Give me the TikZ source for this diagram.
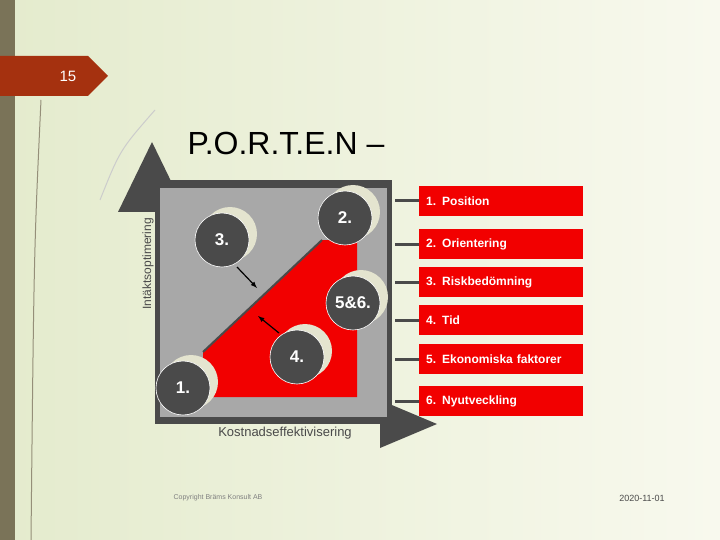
\documentclass[tikz,border=0pt]{standalone}
\usepackage{fontspec}
\setmainfont{Liberation Sans}
\begin{document}
\begin{tikzpicture}[x=1pt,y=-1pt,
  circ/.style={circle,draw=white,line width=0.6pt,fill=darkc,minimum size=54pt,inner sep=0pt,text=white,font=\bfseries\fontsize{17}{19}\selectfont},
  shad/.style={circle,fill=cream,minimum size=54pt,inner sep=0pt},
  lab/.style={fill=redb,minimum width=164pt,minimum height=30pt,anchor=west,text=white,font=\bfseries\fontsize{12}{14}\selectfont,align=left,text width=150pt,inner xsep=7pt},
  bar/.style={draw=darkc,line width=3pt}]
\definecolor{darkc}{HTML}{4A4A4A}
\definecolor{cream}{HTML}{E4E4CF}
\definecolor{redb}{HTML}{F20000}
\definecolor{graysq}{HTML}{A8A8A8}
\definecolor{tab}{HTML}{A5310F}
\definecolor{strip}{HTML}{7A7358}
\useasboundingbox (0,0) rectangle (720,540);
\shade[left color={rgb,255:red,228;green,235;blue,205}, right color={rgb,255:red,248;green,249;blue,238}] (0,0) rectangle (720,540);
\fill[strip] (0,0) rectangle (15,540);
\draw[strip!80,line width=1pt] (41,100) .. controls (34,250) .. (31,540);
\draw[gray!40,line width=1pt] (155,110) .. controls (120,150) .. (100,200);
\fill[tab] (0,56) -- (88,56) -- (108,76) -- (88,96) -- (0,96) -- cycle;
\node[text=white,font=\fontsize{15}{17}\selectfont] (pg) at (68,76) {15};
\node[font=\fontsize{32}{36}\selectfont,anchor=west] (title) at (184,143) {P.O.R.T.E.N --};
% axes and frame
\fill[darkc] (155,180) rectangle (392,424);
\fill[darkc] (155,180) -- (155,212) -- (118,212) -- (152,142) -- (186,212) -- (180,212) -- cycle;
\fill[darkc] (380,424) -- (380,400) -- (437,424) -- (380,448) -- cycle;
\fill[graysq] (160,188) rectangle (387,417);
\fill[redb] (203,352) -- (322,240) -- (357,240) -- (357,397) -- (203,397) -- cycle;
\draw[darkc,line width=2pt] (203,352) -- (322,240);
\node[rotate=90,font=\fontsize{12}{14}\selectfont,text=darkc] (ylab) at (148,264) {Intäktsoptimering};
\node[font=\fontsize{13}{15}\selectfont,text=darkc] (xlab) at (285,433) {Kostnadseffektivisering};
% circles
\foreach \n/\x/\y/\t in {c1/183/388/1., c2/345/218/2., c3/222/240/3., c56/353/303/5\&6., c4/297/357/4.}{
  \node[shad] at (\x+8,\y-6) {};
  \node[circ] (\n) at (\x,\y) {\t};
}
\coordinate (a3) at (257,288);
\coordinate (a4) at (258,316);
\draw[-latex,line width=1.2pt] (c3) ++(15,27) -- (a3);
\draw[-latex,line width=1.2pt] (c4) ++(-18,-24) -- (a4);
% labels
\foreach \n/\y/\t in {l1/201/1. Position, l2/244/2. Orientering, l3/282/3. Riskbedömning, l4/320/4. Tid, l5/359/5. Ekonomiska faktorer, l6/401/6. Nyutveckling}{
  \node[lab] (\n) at (419,\y) {\t};
  \coordinate (b\n) at (395,\y);
  \draw[bar] (b\n) -- (\n.west);
}
\node[font=\fontsize{7}{8}\selectfont,text=gray] (copy) at (218,498) {Copyright Bräms Konsult AB};
\node[font=\fontsize{9}{10}\selectfont,text=darkc] (date) at (642,498) {2020-11-01};
\end{tikzpicture}
\end{document}
